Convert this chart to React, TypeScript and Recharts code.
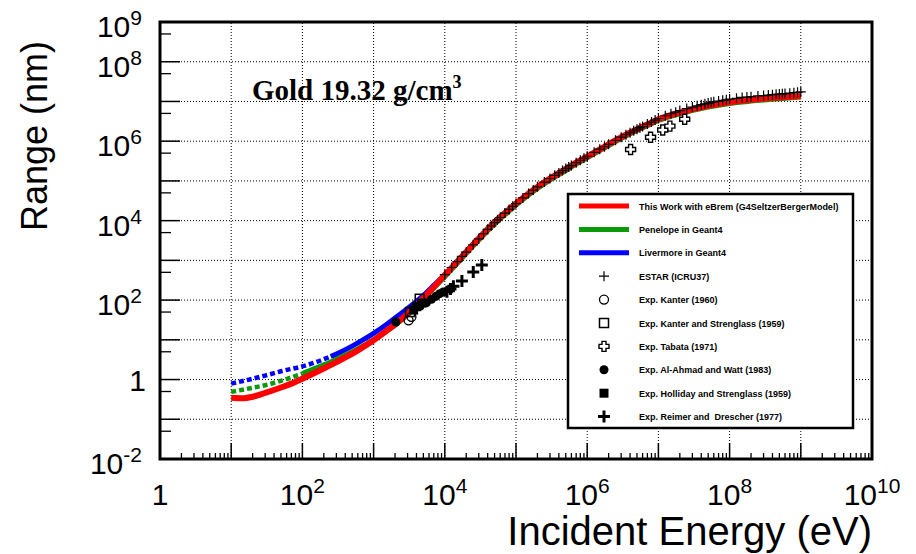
import React from 'react';
import { ComposedChart, Line, Scatter, XAxis, YAxis, ReferenceLine, ReferenceArea } from 'recharts';

const FONT = '"Liberation Sans", Arial, Helvetica, sans-serif';

// energies in eV, ranges in nm
const redE = [10, 15, 20, 30, 50, 70, 100, 150, 200, 300, 500, 700, 1e3, 1.5e3, 2e3, 3e3, 5e3, 7e3, 1e4, 2e4, 3e4, 5e4, 7e4, 1e5, 2e5, 3e5, 5e5, 7e5, 1e6, 2e6, 3e6, 5e6, 7e6, 1e7, 2e7, 5e7, 1e8, 2e8, 5e8, 1e9];
const redR = [0.35, 0.34, 0.37, 0.46, 0.63, 0.79, 1.05, 1.48, 1.91, 2.75, 4.47, 6.46, 9.77, 16.6, 24.5, 45.7, 112, 214, 427, 1620, 3550, 9120, 15500, 26900, 70800, 115000, 200000, 288000, 407000, 832000, 1.26e6, 2.0e6, 2.63e6, 3.55e6, 5.25e6, 7.76e6, 9.55e6, 1.10e7, 1.26e7, 1.38e7];

const greenLowE = [10, 20, 30, 50, 100];
const greenLowR = [0.49, 0.62, 0.72, 0.93, 1.41];
const greenE = [100, 150, 200, 300, 500, 700, 1e3, 1.5e3, 2e3, 3e3, 5e3, 7e3, 1e4, 2e4, 3e4, 5e4, 7e4, 1e5, 2e5, 3e5, 5e5, 7e5, 1e6, 2e6, 3e6, 5e6, 7e6, 1e7, 2e7, 5e7, 1e8, 2e8, 5e8, 1e9];
const greenR = [1.41, 1.91, 2.34, 3.24, 5.01, 6.92, 10.0, 16.2, 23.4, 42.7, 105, 200, 389, 1480, 3240, 8320, 14100, 24500, 64600, 105000, 182000, 263000, 380000, 776000, 1.17e6, 1.86e6, 2.45e6, 3.31e6, 4.9e6, 7.24e6, 8.91e6, 1.02e7, 1.17e7, 1.29e7];

const blueLowE = [10, 20, 30, 50, 100, 150, 250];
const blueLowR = [0.79, 1.05, 1.26, 1.62, 2.14, 2.69, 3.80];
const blueE = [250, 300, 500, 700, 1e3, 1.5e3, 2e3, 3e3, 5e3, 7e3, 1e4, 2e4, 3e4, 5e4, 1e5, 3e5, 1e6, 3e6, 1e7, 5e7, 1e8, 5e8, 1e9];
const blueR = [3.80, 4.37, 6.92, 9.77, 14.5, 24.0, 35.5, 61.7, 132, 234, 437, 1650, 3600, 9120, 26300, 112000, 398000, 1.23e6, 3.47e6, 7.59e6, 9.33e6, 1.23e7, 1.35e7];

const estarE = [
  1e4, 1.25e4, 1.5e4, 1.75e4, 2e4, 2.5e4, 3e4, 3.5e4, 4e4, 4.5e4, 5e4, 5.5e4, 6e4, 7e4, 8e4, 9e4,
  1e5, 1.25e5, 1.5e5, 1.75e5, 2e5, 2.5e5, 3e5, 3.5e5, 4e5, 4.5e5, 5e5, 5.5e5, 6e5, 7e5, 8e5, 9e5,
  1e6, 1.25e6, 1.5e6, 1.75e6, 2e6, 2.5e6, 3e6, 3.5e6, 4e6, 4.5e6, 5e6, 5.5e6, 6e6, 7e6, 8e6, 9e6,
  1e7, 1.25e7, 1.5e7, 1.75e7, 2e7, 2.5e7, 3e7, 3.5e7, 4e7, 4.5e7, 5e7, 5.5e7, 6e7, 7e7, 8e7, 9e7,
  1e8, 1.25e8, 1.5e8, 1.75e8, 2e8, 2.5e8, 3e8, 3.5e8, 4e8, 4.5e8, 5e8, 5.5e8, 6e8, 7e8, 8e8, 9e8,
  1e9,
];
const estarR = [
  437, 661, 933, 1260, 1620, 2460, 3470, 4680, 6030, 7410, 8910, 10500, 12000, 15500, 19100, 22900,
  26900, 37200, 47900, 58900, 70800, 93300, 115000, 138000, 159000, 182000, 204000, 224000, 246000, 288000, 331000, 372000,
  417000, 525000, 631000, 724000, 832000, 1.05e6, 1.26e6, 1.45e6, 1.62e6, 1.82e6, 2.0e6, 2.19e6, 2.34e6, 2.69e6, 3.02e6, 3.39e6,
  3.72e6, 4.37e6, 4.9e6, 5.37e6, 5.89e6, 6.61e6, 7.24e6, 7.76e6, 8.32e6, 8.71e6, 9.12e6, 9.55e6, 9.77e6, 1.02e7, 1.07e7, 1.10e7,
  1.15e7, 1.20e7, 1.26e7, 1.29e7, 1.32e7, 1.38e7, 1.41e7, 1.45e7, 1.48e7, 1.51e7, 1.53e7, 1.56e7, 1.58e7, 1.62e7, 1.66e7, 1.70e7,
  1.74e7,
];

const kanterE = [3100, 3400];
const kanterR = [31, 38];
const kanterStrE = [3250, 4450];
const kanterStrR = [50, 108];
const tabataE = [4.07e6, 7.76e6, 1.15e7, 1.45e7, 2.34e7];
const tabataR = [6.17e5, 1.26e6, 1.91e6, 2.4e6, 3.55e6];
const alAhmadE = [2050, 4500, 5500, 6500, 7500, 8500, 9500];
const alAhmadR = [28, 70, 85, 105, 125, 145, 160];
const hollidayE = [3650, 4000, 4700];
const hollidayR = [56, 68, 84];
const reimerE = [10700, 12000, 13200, 17400, 25100, 33100];
const reimerR = [162, 190, 224, 302, 513, 759];

const xDecades = [1, 10, 1e2, 1e3, 1e4, 1e5, 1e6, 1e7, 1e8, 1e9, 1e10];
const xLabelled = [1, 1e2, 1e4, 1e6, 1e8, 1e10];
const yDecades = [1e-2, 1e-1, 1, 10, 1e2, 1e3, 1e4, 1e5, 1e6, 1e7, 1e8, 1e9];
const yLabelled = [1e-2, 1, 1e2, 1e4, 1e6, 1e8, 1e9];

const xMinor: number[] = [];
xDecades.slice(0, -1).forEach((d) => [2, 3, 4, 5, 6, 7, 8, 9].forEach((m) => xMinor.push(d * m)));
const yMinor = yDecades.slice(0, -1).map((d) => d * 5);

const pts = (xs: number[], ys: number[]) => xs.map((x, i) => ({ x, y: ys[i] }));

const RED = '#ff0000';
const GREEN = '#0a990a';
const BLUE = '#0000ff';

// marker shapes
const thinPlus = (cx: number, cy: number) => (
  <path d={`M${cx - 5},${cy}H${cx + 5}M${cx},${cy - 5}V${cy + 5}`} stroke="#000" strokeWidth={1.2} fill="none" />
);
const openCircle = (cx: number, cy: number) => (
  <circle cx={cx} cy={cy} r={4.5} stroke="#000" strokeWidth={1.3} fill="none" />
);
const openSquare = (cx: number, cy: number) => (
  <rect x={cx - 4.5} y={cy - 4.5} width={9} height={9} stroke="#000" strokeWidth={1.5} fill="none" />
);
const openCross = (cx: number, cy: number) => {
  const a = 2;
  const b = 5;
  const p = [
    [-a, -b], [a, -b], [a, -a], [b, -a], [b, a], [a, a], [a, b], [-a, b], [-a, a], [-b, a], [-b, -a], [-a, -a],
  ].map(([dx, dy]) => `${cx + dx},${cy + dy}`).join(' ');
  return <polygon points={p} stroke="#000" strokeWidth={1.4} fill="#fff" />;
};
const filledCircle = (cx: number, cy: number) => <circle cx={cx} cy={cy} r={4.5} fill="#000" />;
const filledSquare = (cx: number, cy: number) => <rect x={cx - 4.5} y={cy - 4.5} width={9} height={9} fill="#000" />;
const boldPlus = (cx: number, cy: number) => (
  <path d={`M${cx - 6},${cy}H${cx + 6}M${cx},${cy - 6}V${cy + 6}`} stroke="#000" strokeWidth={3} fill="none" />
);

const legendItems = [
  { label: 'This Work with eBrem (G4SeltzerBergerModel)', color: RED },
  { label: 'Penelope in Geant4', color: GREEN },
  { label: 'Livermore in Geant4', color: BLUE },
  { label: 'ESTAR (ICRU37)', shape: thinPlus },
  { label: 'Exp. Kanter (1960)', shape: openCircle },
  { label: 'Exp. Kanter and Strenglass (1959)', shape: openSquare },
  { label: 'Exp. Tabata (1971)', shape: openCross },
  { label: 'Exp. Al-Ahmad and Watt (1983)', shape: filledCircle },
  { label: 'Exp. Holliday and Strenglass (1959)', shape: filledSquare },
  { label: 'Exp. Reimer and  Drescher (1977)', shape: boldPlus },
];

const powLabel = (v: number) => Math.round(Math.log10(v));

const isDecade = (v: number) => Math.abs(Math.log10(v) - Math.round(Math.log10(v))) < 1e-9;

function XTick(props: any) {
  const { x, y, payload } = props;
  const v = payload.value;
  if (!isDecade(v)) return <line x1={x} x2={x} y1={y} y2={y - 6} stroke="#000" strokeWidth={1.3} />;
  const e = powLabel(v);
  return (
    <g>
      <line x1={x} x2={x} y1={y} y2={y - 16} stroke="#000" strokeWidth={1.5} />
      {xLabelled.includes(v) && (
        <text x={x} y={y + 46} textAnchor="middle" fontSize={30} fontFamily={FONT} fill="#000">
          {e === 0 ? '1' : (
            <>
              <tspan>10</tspan>
              <tspan dy={-12} fontSize={21}>{e}</tspan>
            </>
          )}
        </text>
      )}
    </g>
  );
}

function YTick(props: any) {
  const { x, y, payload } = props;
  const v = payload.value;
  if (!isDecade(v)) return <line x1={x} x2={x + 11} y1={y} y2={y} stroke="#000" strokeWidth={1.3} />;
  const e = powLabel(v);
  return (
    <g>
      <line x1={x} x2={x + 20} y1={y} y2={y} stroke="#000" strokeWidth={1.5} />
      {yLabelled.includes(v) && (
        e === 0 ? (
          <text x={x - 14} y={y + 11} textAnchor="end" fontSize={30} fontFamily={FONT} fill="#000">1</text>
        ) : (
          <text x={x - 18} y={y + 15} textAnchor="end" fontSize={30} fontFamily={FONT} fill="#000">
            <tspan>10</tspan>
            <tspan dy={-12} fontSize={21}>{e}</tspan>
          </text>
        )
      )}
    </g>
  );
}

const XTitle = (props: any) => {
  const { viewBox } = props;
  return (
    <text x={viewBox.x + viewBox.width} y={545} textAnchor="end" fontSize={40} fontFamily={FONT} fill="#000">
      Incident Energy (eV)
    </text>
  );
};

const YTitle = () => (
  <text x={47} y={231} transform="rotate(-90 47 231)" textAnchor="start" fontSize={36} fontFamily={FONT} fill="#000">
    Range (nm)
  </text>
);

export default function App() {
  const rowY = (i: number) => 206 + i * 23.4;

  return (
    <div style={{ position: 'absolute', left: 0, top: 0, width: 916, height: 554, background: '#fff' }}>
      <ComposedChart width={916} height={554} margin={{ top: 22, right: 44, bottom: 0, left: 0 }}>
        <XAxis
          dataKey="x"
          type="number"
          scale="log"
          domain={[1, 1e10]}
          allowDataOverflow
          ticks={[...xDecades, ...xMinor]}
          interval={0}
          tick={<XTick />}
          tickLine={false}
          axisLine={false}
          tickSize={0}
          tickMargin={0}
          height={95}
          label={<XTitle />}
        />
        <YAxis
          dataKey="y"
          type="number"
          scale="log"
          domain={[1e-2, 1e9]}
          allowDataOverflow
          ticks={[...yDecades, ...yMinor]}
          interval={0}
          tick={<YTick />}
          tickLine={false}
          axisLine={false}
          tickSize={0}
          tickMargin={0}
          width={160}
          label={<YTitle />}
        />
        {xDecades.slice(1, -1).map((v) => (
          <ReferenceLine key={`gx${v}`} x={v} stroke="#000" strokeWidth={1} strokeDasharray="1 2" />
        ))}
        {yDecades.slice(1, -1).map((v) => (
          <ReferenceLine key={`gy${v}`} y={v} stroke="#000" strokeWidth={1} strokeDasharray="1 2" />
        ))}

        <Line data={pts(blueLowE, blueLowR)} dataKey="y" type="monotone" stroke={BLUE} strokeWidth={4.5} strokeDasharray="5 3" dot={false} isAnimationActive={false} />
        <Line data={pts(blueE, blueR)} dataKey="y" type="monotone" stroke={BLUE} strokeWidth={5} dot={false} isAnimationActive={false} />
        <Line data={pts(greenLowE, greenLowR)} dataKey="y" type="monotone" stroke={GREEN} strokeWidth={4.5} strokeDasharray="5 3" dot={false} isAnimationActive={false} />
        <Line data={pts(greenE, greenR)} dataKey="y" type="monotone" stroke={GREEN} strokeWidth={5} dot={false} isAnimationActive={false} />
        <Line data={pts(redE, redR)} dataKey="y" type="monotone" stroke={RED} strokeWidth={6} dot={false} isAnimationActive={false} />

        <Scatter data={pts(estarE, estarR)} dataKey="y" shape={(p: any) => thinPlus(p.cx, p.cy)} isAnimationActive={false} />
        <Scatter data={pts(kanterE, kanterR)} dataKey="y" shape={(p: any) => openCircle(p.cx, p.cy)} isAnimationActive={false} />
        <Scatter data={pts(kanterStrE, kanterStrR)} dataKey="y" shape={(p: any) => openSquare(p.cx, p.cy)} isAnimationActive={false} />
        <Scatter data={pts(tabataE, tabataR)} dataKey="y" shape={(p: any) => openCross(p.cx, p.cy)} isAnimationActive={false} />
        <Scatter data={pts(alAhmadE, alAhmadR)} dataKey="y" shape={(p: any) => filledCircle(p.cx, p.cy)} isAnimationActive={false} />
        <Scatter data={pts(hollidayE, hollidayR)} dataKey="y" shape={(p: any) => filledSquare(p.cx, p.cy)} isAnimationActive={false} />
        <Scatter data={pts(reimerE, reimerR)} dataKey="y" shape={(p: any) => boldPlus(p.cx, p.cy)} isAnimationActive={false} />

        <ReferenceArea x1={1} x2={1e10} y1={1e-2} y2={1e9} fill="none" fillOpacity={0} stroke="#000" strokeWidth={3} ifOverflow="visible" />
      </ComposedChart>

      <svg width={916} height={554} style={{ position: 'absolute', left: 0, top: 0, pointerEvents: 'none' }}>
        <text x={252} y={100} fontSize={29} fontWeight="bold" fontFamily='"Liberation Serif", "Times New Roman", serif' fill="#000">
          <tspan>Gold 19.32 g/cm</tspan>
          <tspan dy={-12} fontSize={18}>3</tspan>
        </text>

        <rect x={568} y={194} width={285} height={234} fill="#fff" stroke="#000" strokeWidth={2.5} />
        {legendItems.map((it, i) => (
          <g key={it.label}>
            {it.color ? (
              <line x1={579} x2={629} y1={rowY(i)} y2={rowY(i)} stroke={it.color} strokeWidth={5} />
            ) : (
              it.shape && it.shape(604, rowY(i))
            )}
            <text x={639} y={rowY(i) + 3.5} fontSize={9} fontWeight="bold" fontFamily={FONT} fill="#000" style={{ whiteSpace: 'pre' }}>
              {it.label}
            </text>
          </g>
        ))}
      </svg>
    </div>
  );
}
